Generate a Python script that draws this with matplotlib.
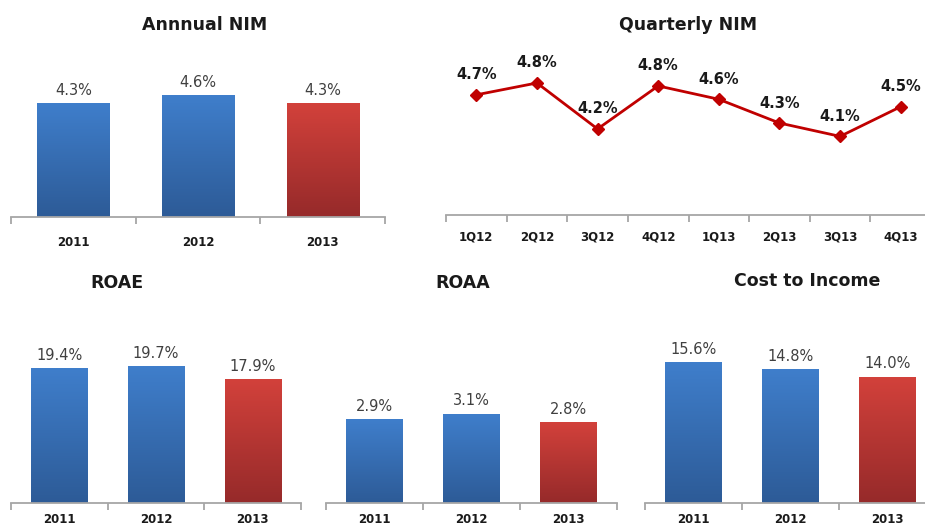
import numpy as np
import matplotlib.pyplot as plt
from matplotlib.colors import LinearSegmentedColormap

anos = ['2011', '2012', '2013']
nim_anual = [4.3, 4.6, 4.3]
trimestres = ['1Q12', '2Q12', '3Q12', '4Q12', '1Q13', '2Q13', '3Q13', '4Q13']
nim_trimestral = [4.66, 4.82, 4.20, 4.78, 4.60, 4.28, 4.10, 4.50]
roae = [19.4, 19.7, 17.9]
roaa = [2.9, 3.1, 2.8]
custo_receita = [15.6, 14.8, 14.0]

W, H = 925, 527  # tamanho em pixels

azul = LinearSegmentedColormap.from_list('azul', ['#2D5B97', '#3F7ECB'])
vermelho = LinearSegmentedColormap.from_list('vermelho', ['#962A2A', '#D2413B'])
cinza = '#A6A6A6'


# cria um eixo a partir de coordenadas em pixels (origem no topo)
def eixo(fig, x0, x1, y_top, y_base):
    return fig.add_axes([x0 / W, (H - y_base) / H, (x1 - x0) / W, (y_base - y_top) / H])


def estilo(ax, labels, pad):
    n = len(labels)
    ax.set_xlim(-0.5, n - 0.5)
    for lado in ['top', 'right', 'left']:
        ax.spines[lado].set_visible(False)
    ax.spines['bottom'].set_color(cinza)
    ax.spines['bottom'].set_linewidth(1.3)
    ax.set_yticks([])
    ax.set_xticks(range(n))
    ax.set_xticklabels(labels, fontweight='bold', fontsize=8.5, color='#1a1a1a')
    ax.tick_params(axis='x', which='major', length=0, pad=pad)
    ax.set_xticks(np.arange(-0.5, n), minor=True)
    ax.tick_params(axis='x', which='minor', length=5, width=1.3, color=cinza, direction='out')
    ax.patch.set_alpha(0)


def barras(ax, valores, ymax, pad):
    cores = [azul, azul, vermelho]
    bars = ax.bar(range(len(valores)), valores, width=0.58, color='none',
                  linewidth=0, zorder=3)
    grad = np.linspace(0, 1, 100).reshape(-1, 1)
    for b, cmap, v in zip(bars, cores, valores):
        x0 = b.get_x()
        ax.imshow(grad, extent=[x0, x0 + b.get_width(), 0, b.get_height()],
                  origin='lower', aspect='auto', cmap=cmap, zorder=2)
        ax.annotate(f'{v:.1f}%', (x0 + b.get_width() / 2, v), xytext=(0, 4),
                    textcoords='offset points', ha='center', va='bottom',
                    fontsize=10.5, color='#404040')
    ax.set_ylim(0, ymax)
    estilo(ax, anos, pad)


fig = plt.figure(figsize=(W / 100, H / 100), dpi=100)

# NIM anual
ax1 = eixo(fig, 11, 385, 60, 217)
barras(ax1, nim_anual, 157 / 26.4, 14)

# NIM trimestral
ax2 = eixo(fig, 446, 931, 55, 215)
ax2.plot(range(len(nim_trimestral)), nim_trimestral, color='#C00000', lw=2,
         marker='D', markersize=6, zorder=3)
for i, v in enumerate(nim_trimestral):
    ax2.annotate(f'{v:.1f}%', (i, v), xytext=(0, 9), textcoords='offset points',
                 ha='center', va='bottom', fontsize=10.5, fontweight='bold', color='#1a1a1a')
ax2.set_ylim(3.04, 5.197)
estilo(ax2, trimestres, 11)

# ROAE, ROAA, custo/receita
ax3 = eixo(fig, 11, 301, 300, 503)
barras(ax3, roae, 203 / 6.92, 7)
ax4 = eixo(fig, 326, 617, 300, 503)
barras(ax4, roaa, 203 / 28.7, 7)
ax5 = eixo(fig, 645, 936, 300, 503)
barras(ax5, custo_receita, 203 / 9.0, 7)

# titulos
titulos = [('Annnual NIM', 205, 25), ('Quarterly NIM', 688, 25), ('ROAE', 117, 283),
           ('ROAA', 463, 283), ('Cost to Income', 807, 281)]
for t, x, y in titulos:
    fig.text(x / W, 1 - y / H, t, ha='center', va='center', fontsize=12.5,
             fontweight='bold', color='#1a1a1a')

fig.savefig('out.png', dpi=100)
